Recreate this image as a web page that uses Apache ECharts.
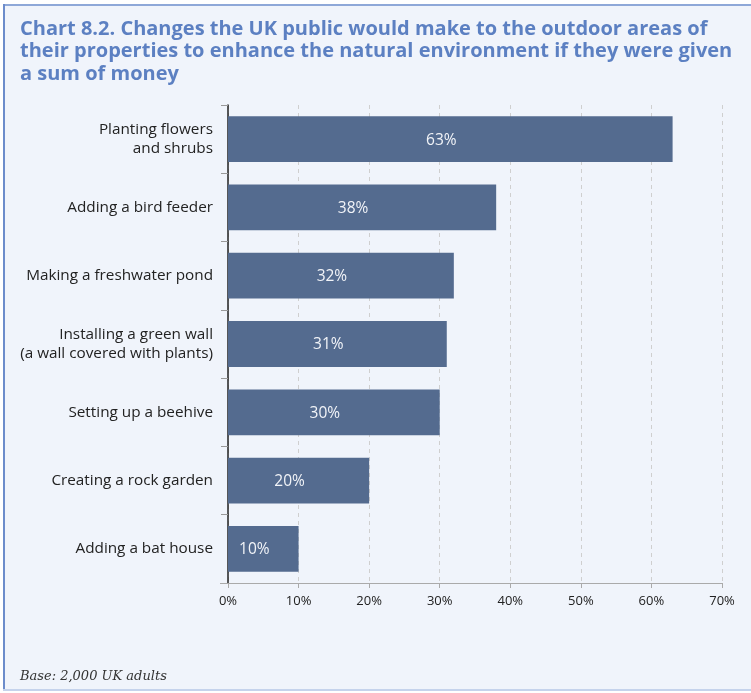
<!DOCTYPE html>
<html>
<head>
<meta charset="utf-8">
<script src="https://cdn.jsdelivr.net/npm/echarts@6/dist/echarts.min.js"></script>
<style>
  html, body { margin: 0; padding: 0; background: #ffffff; }
  #chart { width: 751px; height: 693px; }
</style>
</head>
<body>
<div id="chart"></div>
<script>
// Survey answers, top to bottom
const categories = [
  'Planting flowers\nand shrubs',
  'Adding a bird feeder',
  'Making a freshwater pond',
  'Installing a green wall\n(a wall covered with plants)',
  'Setting up a beehive',
  'Creating a rock garden',
  'Adding a bat house'
];
const shares = [63, 38, 32, 31, 30, 20, 10];
const tickValues = [0, 10, 20, 30, 40, 50, 60, 70];

const titleText = 'Chart 8.2. Changes the UK public would make to the outdoor areas of\n' +
  'their properties to enhance the natural environment if they were given\n' +
  'a sum of money';
const baseNote = 'Base: 2,000 UK adults';

const gridLeft = 228, gridBottom = 110, chartH = 693;

const chart = echarts.init(document.getElementById('chart'));
chart.setOption({
  backgroundColor: '#ffffff',
  animation: false,
  graphic: [
    // panel background and frame
    { type: 'rect', z: -10, shape: { x: 3, y: 4, width: 748, height: 687 },
      style: { fill: '#f0f4fb' } },
    { type: 'rect', z: -9, shape: { x: 3, y: 4, width: 748, height: 2 },
      style: { fill: '#8ea8d8' } },
    { type: 'rect', z: -9, shape: { x: 3, y: 4, width: 2, height: 687 },
      style: { fill: '#6c8ccb' } },
    { type: 'rect', z: -9, shape: { x: 3, y: 689, width: 748, height: 2 },
      style: { fill: '#c5d3ec' } },
    // short stub of the value axis line left of the category axis
    { type: 'line', z: 1,
      shape: { x1: gridLeft - 8, y1: chartH - gridBottom + 0.5, x2: gridLeft, y2: chartH - gridBottom + 0.5 },
      style: { stroke: '#aaaaaa', lineWidth: 1 } },
    { type: 'text', left: 20, top: 670,
      style: { text: baseNote, font: 'italic 13px "DejaVu Serif", "Liberation Serif", serif',
               fill: '#333333' } }
  ],
  title: {
    text: titleText,
    left: 15,
    top: 13,
    textStyle: {
      fontFamily: '"Open Sans", sans-serif',
      fontWeight: 'bold',
      fontSize: 20,
      lineHeight: 22.5,
      color: '#5c80c2'
    }
  },
  grid: { left: gridLeft, right: 29, top: 105, bottom: gridBottom, containLabel: false },
  xAxis: {
    type: 'value',
    min: 0,
    max: 70,
    interval: 10,
    axisLine: { show: true, lineStyle: { color: '#aaaaaa', width: 1 } },
    axisTick: { show: true, length: 5, lineStyle: { color: '#aaaaaa' } },
    axisLabel: {
      margin: 12,
      fontSize: 13,
      color: '#222222',
      fontFamily: '"Open Sans", sans-serif',
      formatter: v => tickValues.includes(v) ? v + '%' : ''
    },
    splitLine: { show: true, lineStyle: { color: '#cfcfcf', type: [4, 4], width: 1 } }
  },
  yAxis: {
    type: 'category',
    data: categories,
    inverse: true,
    axisLine: { show: true, lineStyle: { color: '#222222', width: 1.5 } },
    axisTick: { show: true, length: 7, lineStyle: { color: '#999999' } },
    axisLabel: {
      margin: 15,
      fontSize: 15.3,
      lineHeight: 19,
      color: '#222222',
      align: 'right',
      fontFamily: '"Open Sans", sans-serif'
    }
  },
  series: [{
    type: 'bar',
    data: shares,
    barCategoryGap: '33%',
    itemStyle: { color: '#546b8f' },
    label: {
      show: true,
      position: 'inside',
      offset: [-9, 1],
      formatter: p => p.value + '%',
      color: '#f2f4f8',
      fontSize: 15.5,
      fontFamily: '"Open Sans", sans-serif'
    }
  }]
});
</script>
</body>
</html>
